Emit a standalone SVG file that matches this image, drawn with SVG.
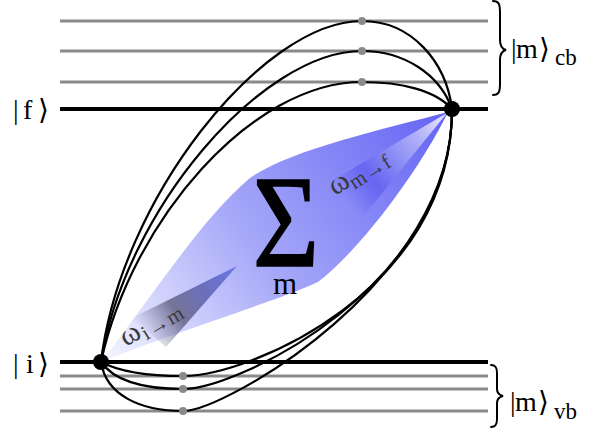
<svg xmlns="http://www.w3.org/2000/svg" width="606" height="434" viewBox="0 0 606 434">
<style>
.gray{stroke:#8a8a8a;stroke-width:3;fill:none}
.lvl{stroke:#000;stroke-width:4;fill:none}
.arc{stroke:#000;stroke-width:2.2;fill:none}
.gdot{fill:#8a8a8a}
.node{fill:#000}
.lbl{font-family:"Liberation Serif","DejaVu Serif",serif;font-size:28px;fill:#000}
.sub{font-size:23px}
.om{font-family:"Liberation Serif","DejaVu Serif",serif;font-size:30px;fill:#3a3a3a}
.omsub{font-size:21px}
.big{font-size:124px;stroke:#000;stroke-width:1.6}
.sm{font-size:31px}
.brace{stroke:#000;stroke-width:2;fill:none;stroke-linecap:round}
</style>
<defs>
<linearGradient id="lensG" gradientUnits="userSpaceOnUse" x1="101" y1="362" x2="452" y2="109">
<stop offset="0" stop-color="#f6f6ff"/>
<stop offset="0.45" stop-color="#a5a7f8"/>
<stop offset="1" stop-color="#6262f4"/>
</linearGradient>
<linearGradient id="wedgeI" gradientUnits="userSpaceOnUse" x1="140" y1="332" x2="237" y2="266">
<stop offset="0" stop-color="#8888a8" stop-opacity="0"/>
<stop offset="0.35" stop-color="#6a6a8c" stop-opacity="0.9"/>
<stop offset="0.65" stop-color="#6266b4" stop-opacity="0.9"/>
<stop offset="1" stop-color="#6b78ea"/>
</linearGradient>
<linearGradient id="wedgeF" gradientUnits="userSpaceOnUse" x1="447" y1="114" x2="345" y2="198">
<stop offset="0" stop-color="#ffffff" stop-opacity="0.9"/>
<stop offset="0.3" stop-color="#c8c8fb" stop-opacity="0.7"/>
<stop offset="0.75" stop-color="#5a5aee" stop-opacity="0.7"/>
<stop offset="1" stop-color="#5a5aee" stop-opacity="0"/>
</linearGradient>
</defs>

<g id="levels">
<line class="gray" x1="60" y1="21" x2="488" y2="21"/>
<line class="gray" x1="60" y1="51" x2="488" y2="51"/>
<line class="gray" x1="60" y1="82" x2="488" y2="82"/>
<line class="lvl" x1="60" y1="109" x2="488" y2="109"/>
<line class="lvl" x1="60" y1="362" x2="488" y2="362"/>
<line class="gray" x1="60" y1="376" x2="488" y2="376"/>
<line class="gray" x1="60" y1="389" x2="488" y2="389"/>
<line class="gray" x1="60" y1="411" x2="488" y2="411"/>
</g>

<g id="sum">
<path d="M101,362 C150,300 200,220 250,178 C290,150 380,130 448,112 C420,170 360,250 318,282 C280,300 180,330 101,362 Z" fill="url(#lensG)"/>
<polygon points="132,318 237,266 166,347" fill="url(#wedgeI)"/>
<polygon points="447,113 330,182 362,218" fill="url(#wedgeF)"/>
<text class="lbl big" x="0" y="0" text-anchor="middle" transform="translate(286,266) scale(0.92,1.06)">Σ</text>
<text class="lbl sm" x="285" y="294" text-anchor="middle">m</text>
<g transform="translate(126,347) rotate(-31)">
<text class="om">ω<tspan x="21" dy="5" class="omsub">i</tspan><tspan x="28" class="omsub">→</tspan><tspan x="50" class="omsub">m</tspan></text>
</g>
<g transform="translate(335,196) rotate(-32)">
<text class="om">ω<tspan x="20" dy="5" class="omsub">m</tspan><tspan x="37" class="omsub">→</tspan><tspan x="58" class="omsub">f</tspan></text>
</g>
</g>

<g id="connectors">
<path class="arc" d="M101,362 C120,200 262,21 362,21 C412,21 446,62 452,109"/>
<path class="arc" d="M101,362 C125,210 262,51 362,51 C405,51 440,75 452,109"/>
<path class="arc" d="M101,362 C132,220 252,82 362,82 C400,82 435,90 452,109"/>
<path class="arc" d="M101,362 C120,372 150,376 183,376 C250,376 452,290 452,109"/>
<path class="arc" d="M101,362 C115,382 145,389 183,389 C238,389 453,285 452,109"/>
<path class="arc" d="M101,362 C106,395 140,411 183,411 C225,411 454,280 452,109"/>
</g>

<g id="mid-states">
<circle class="gdot" cx="362" cy="21" r="4"/>
<circle class="gdot" cx="362" cy="51" r="4"/>
<circle class="gdot" cx="362" cy="82" r="4"/>
<circle class="gdot" cx="183" cy="376" r="4"/>
<circle class="gdot" cx="183" cy="389" r="4"/>
<circle class="gdot" cx="183" cy="411" r="4"/>
</g>

<g id="node-i">
<circle class="node" cx="101" cy="362" r="8"/>
<text class="lbl" y="373"><tspan x="13">|</tspan><tspan x="26">i</tspan><tspan x="38">⟩</tspan></text>
</g>
<g id="node-f">
<circle class="node" cx="452" cy="109" r="8"/>
<text class="lbl" y="119"><tspan x="13">|</tspan><tspan x="23">f</tspan><tspan x="38">⟩</tspan></text>
</g>

<g id="cb-states">
<path class="brace" d="M493,1 C499,1 500,5 500,11 L500,40 C500,46 502,49 506,50 C502,51 500,54 500,60 L500,85 C500,91 499,95 493,95"/>
<text class="lbl" y="58"><tspan x="511">|</tspan><tspan x="516">m</tspan><tspan x="539">⟩</tspan><tspan x="555" dy="7" class="sub">cb</tspan></text>
</g>
<g id="vb-states">
<path class="brace" d="M491,365 C496,365 497,368 497,373 L497,389 C497,393 499,395 503,396 C499,397 497,399 497,403 L497,419 C497,424 496,427 491,427"/>
<text class="lbl" y="411"><tspan x="510">|</tspan><tspan x="515">m</tspan><tspan x="538">⟩</tspan><tspan x="554" dy="8" class="sub">vb</tspan></text>
</g>
</svg>
